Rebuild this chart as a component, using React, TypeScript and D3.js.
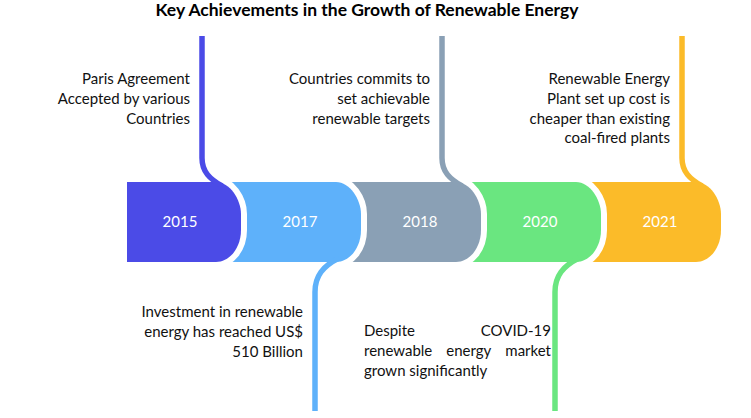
import * as d3 from 'd3';
import React, { useEffect, useRef } from 'react';

const title = 'Key Achievements in the Growth of Renewable Energy';

const years = ['2015', '2017', '2018', '2020', '2021'];
const sides = ['top', 'bottom', 'top', 'bottom', 'top'];
const colors = ['#4B4BE7', '#5EB1FA', '#8AA0B5', '#6AE680', '#FBBB29'];

const notes: string[][] = [
  ['Paris Agreement', 'Accepted by various', 'Countries'],
  ['Investment in renewable', 'energy has reached US$', '510 Billion'],
  ['Countries commits to', 'set achievable', 'renewable targets'],
  ['Despite COVID-19', 'renewable energy market', 'grown significantly'],
  ['Renewable Energy', 'Plant set up cost is', 'cheaper than existing', 'coal-fired plants'],
];

const width = 751;
const height = 418;
const font = 'Lato, "Noto Sans", sans-serif';

export default function App() {
  const svgRef = useRef<SVGSVGElement | null>(null);

  useEffect(() => {
    if (!svgRef.current) return;
    const svg = d3.select(svgRef.current);
    svg.selectAll('*').remove();

    const bandTop = 182;
    const bandBottom = 262;
    const mid = (bandTop + bandBottom) / 2;
    const segWidth = 114;
    const rx = 25;
    const ry = 32;
    const lineH = 19.7;

    const x = d3.scaleBand<string>().domain(years).range([127, 727]).padding(0);

    // title
    svg
      .append('text')
      .attr('x', 367)
      .attr('y', 10)
      .attr('dy', '0.35em')
      .attr('text-anchor', 'middle')
      .style('font-family', font)
      .style('font-weight', 700)
      .style('font-size', '17.5px')
      .style('fill', '#000')
      .text(title);

    const segPath = (x0: number, first: boolean) => {
      const xr = x0 + segWidth;
      const xl = first ? x0 : x0 - 60;
      const p = d3.path();
      p.moveTo(xl, bandTop);
      p.lineTo(xr - rx, bandTop);
      p.bezierCurveTo(xr - rx * 0.45, bandTop, xr, bandTop + ry * 0.55, xr, bandTop + ry);
      p.lineTo(xr, bandBottom - ry);
      p.bezierCurveTo(xr, bandBottom - ry * 0.45, xr - rx * 0.45, bandBottom, xr - rx, bandBottom);
      p.lineTo(xl, bandBottom);
      p.closePath();
      return p.toString();
    };

    // segments, drawn right to left so each one sits over the next
    const order = years.map((_, i) => i).reverse();
    order.forEach((i) => {
      const yr = years[i];
      const x0 = x(yr)!;
      const xr = x0 + segWidth;
      const g = svg.append('g');

      g.append('path')
        .attr('d', segPath(x0, i === 0))
        .attr('fill', colors[i])
        .attr('stroke', '#fff')
        .attr('stroke-width', 12)
        .attr('paint-order', 'stroke');

      // connector
      const conn = d3.path();
      if (sides[i] === 'top') {
        const cx = xr - 39;
        conn.moveTo(cx, 36);
        conn.lineTo(cx, 158);
        conn.bezierCurveTo(cx, 172, cx + 8, 179, cx + 20, 186);
      } else {
        const cx = xr - 46;
        conn.moveTo(cx, 411);
        conn.lineTo(cx, 292);
        conn.bezierCurveTo(cx, 276, cx + 8, 266, cx + 24, 258);
      }
      g.append('path')
        .attr('d', conn.toString())
        .attr('fill', 'none')
        .attr('stroke', colors[i])
        .attr('stroke-width', 5.5);

      g.append('text')
        .attr('x', xr - 61)
        .attr('y', mid)
        .attr('dy', '0.35em')
        .attr('text-anchor', 'middle')
        .style('font-family', font)
        .style('font-size', '15px')
        .style('fill', '#fff')
        .text(yr);
    });

    // notes
    years.forEach((yr, i) => {
      const xr = x(yr)! + segWidth;
      const top = sides[i] === 'top';
      const cx = top ? xr - 39 : xr - 46;
      const justified = i === 3;
      const y0 = top ? 79 : i === 1 ? 312 : 331;
      const g = svg
        .append('g')
        .style('font-family', font)
        .style('font-size', '15px')
        .style('fill', '#111');

      notes[i].forEach((line, j) => {
        const y = y0 + j * lineH;
        if (!justified) {
          g.append('text')
            .attr('x', cx - 12)
            .attr('y', y)
            .attr('dy', '0.35em')
            .attr('text-anchor', 'end')
            .text(line);
          return;
        }
        const left = cx - 191;
        const right = cx - 4;
        const words = line.split(' ');
        if (j === notes[i].length - 1 || words.length < 2) {
          g.append('text').attr('x', left).attr('y', y).attr('dy', '0.35em').text(line);
          return;
        }
        const nodes = words.map((w) =>
          g.append('text').attr('y', y).attr('dy', '0.35em').text(w),
        );
        const widths = nodes.map((n) => (n.node() as SVGTextElement).getComputedTextLength());
        const gap = (right - left - d3.sum(widths)) / (words.length - 1);
        let pos = left;
        nodes.forEach((n, k) => {
          n.attr('x', pos);
          pos += widths[k] + gap;
        });
      });
    });
  }, []);

  return (
    <svg
      ref={svgRef}
      width={width}
      height={height}
      style={{ position: 'absolute', left: 0, top: 0, background: '#fff' }}
    ></svg>
  );
}
